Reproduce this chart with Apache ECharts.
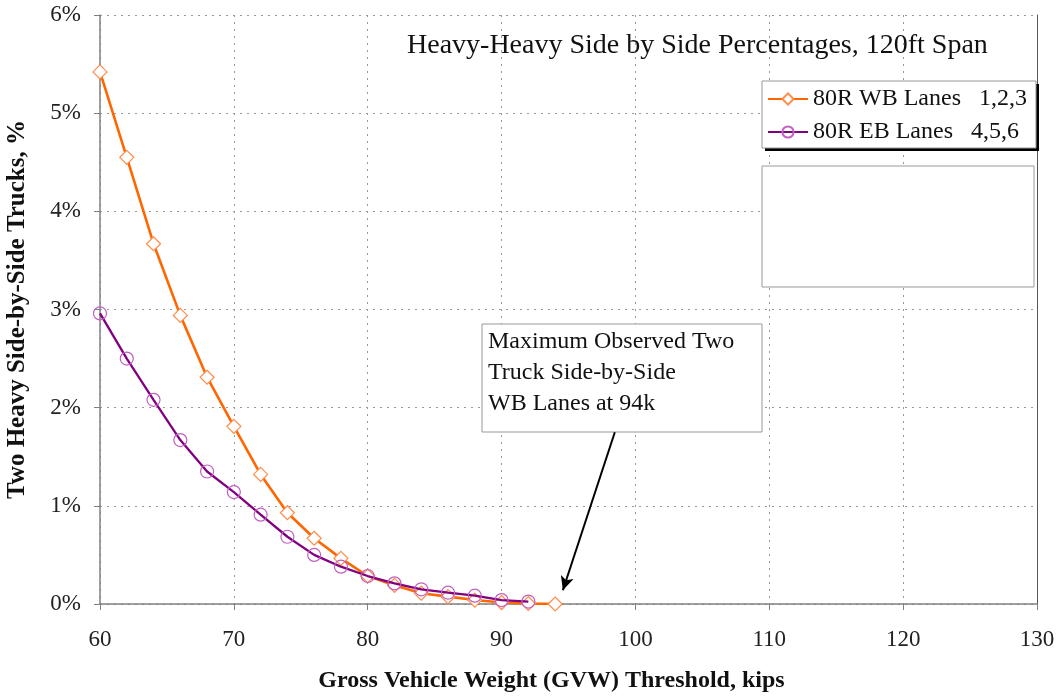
<!DOCTYPE html>
<html>
<head>
<meta charset="utf-8">
<script src="https://cdn.jsdelivr.net/npm/echarts@6/dist/echarts.min.js"></script>
<style>html,body{margin:0;padding:0;background:#fff}#c{width:1060px;height:698px}</style>
</head>
<body>
<div id="c"></div>
<script>
// Data
var wbX = [60,62,64,66,68,70,72,74,76,78,80,82,84,86,88,90,92,94];
var wbY = [5.42,4.55,3.67,2.94,2.31,1.81,1.32,0.93,0.67,0.465,0.285,0.19,0.11,0.075,0.04,0.015,0.005,0];
var ebX = [60,62,64,66,68,70,72,74,76,78,80,82,84,86,88,90,92];
var ebY = [2.96,2.50,2.08,1.67,1.35,1.14,0.91,0.685,0.50,0.38,0.285,0.21,0.15,0.115,0.085,0.04,0.025];
var seriesNames = ['80R WB Lanes   1,2,3', '80R EB Lanes   4,5,6'];
var chartTitle = 'Heavy-Heavy Side by Side Percentages, 120ft Span';
var xTitle = 'Gross Vehicle Weight (GVW) Threshold, kips';
var yTitle = 'Two Heavy Side-by-Side Trucks, %';
var noteLines = ['Maximum Observed Two', 'Truck Side-by-Side', 'WB Lanes at 94k'];
var arrowFrom = [98.46, 1.75];
var arrowTo = [94.58, 0.14];

function pairs(xs, ys){ return xs.map(function(x,i){ return [x, ys[i]]; }); }

var FONT = '"Liberation Serif", "Times New Roman", serif';
var chart = echarts.init(document.getElementById('c'));
chart.setOption({
  animation: false,
  backgroundColor: '#fff',
  title: {
    text: chartTitle, left: 407, top: 32, padding: 0,
    textStyle: { fontFamily: FONT, fontSize: 28, fontWeight: 'normal', color: '#111' }
  },
  grid: { left: 100, right: 23, top: 15, bottom: 94, outerBoundsMode: 'none', containLabel: false },
  legend: {
    orient: 'vertical', left: 762, top: 82, itemGap: 9, itemWidth: 40, itemHeight: 14,
    padding: 5,
    textStyle: { fontFamily: FONT, fontSize: 24, lineHeight: 24, color: '#111' },
    data: seriesNames
  },
  xAxis: {
    type: 'value', min: 60, max: 130, interval: 10,
    name: xTitle, nameLocation: 'middle', nameGap: 65,
    nameTextStyle: { fontFamily: FONT, fontSize: 24, fontWeight: 'bold', color: '#111', padding: [0, 34, 0, 0] },
    axisLine: { show: true, onZero: false, lineStyle: { color: '#808080', width: 1.5 } },
    axisTick: { show: true, length: 6, lineStyle: { color: '#808080' } },
    axisLabel: { fontFamily: FONT, fontSize: 23, color: '#222', margin: 24 },
    splitLine: { show: true, lineStyle: { color: '#999', type: [2, 5], width: 1 } }
  },
  yAxis: [{
    type: 'value', min: 0, max: 6, interval: 1,
    name: yTitle, nameLocation: 'middle', nameGap: 70, nameRotate: 90,
    nameTextStyle: { fontFamily: FONT, fontSize: 25, fontWeight: 'bold', color: '#111' },
    axisLine: { show: true, lineStyle: { color: '#808080', width: 1.5 } },
    axisTick: { show: true, length: 6, lineStyle: { color: '#808080' } },
    axisLabel: { fontFamily: FONT, fontSize: 23, color: '#222', margin: 19, formatter: '{value}%' },
    splitLine: { show: true, lineStyle: { color: '#999', type: [2, 5], width: 1 } }
  }, {
    type: 'value', min: 0, max: 6, interval: 1, position: 'right',
    axisLine: { show: true, lineStyle: { color: '#555', width: 1 } },
    axisTick: { show: false }, axisLabel: { show: false }, splitLine: { show: false }
  }],
  graphic: [
    { type: 'rect', z: 1, shape: { x: 765, y: 84, width: 274, height: 67 },
      style: { fill: '#000', stroke: null } },
    { type: 'rect', z: 1, shape: { x: 762, y: 81, width: 274, height: 67 },
      style: { fill: '#fff', stroke: '#999', lineWidth: 1 } },
    { type: 'rect', z: 1, shape: { x: 762, y: 166, width: 272, height: 121 },
      style: { fill: '#fff', stroke: '#999', lineWidth: 1 } },
    { type: 'rect', z: 1, shape: { x: 482, y: 324, width: 280, height: 108 },
      style: { fill: '#fff', stroke: '#999', lineWidth: 1 } },
    { type: 'text', z: 2, left: 488, top: 326,
      style: { text: noteLines.join('\n'), font: '24px ' + FONT, fill: '#111', lineHeight: 31 } }
  ],
  series: [{
    name: seriesNames[0], type: 'line', z: 3,
    data: pairs(wbX, wbY),
    symbol: 'diamond', symbolSize: 14,
    lineStyle: { color: '#FF6600', width: 2.6 },
    itemStyle: { color: '#fff', borderColor: '#FF8C4A', borderWidth: 1.2 },
    markLine: {
      silent: true, symbol: ['none', 'arrow'], symbolSize: [10, 14],
      label: { show: false },
      lineStyle: { color: '#000', width: 2, type: 'solid' },
      data: [[{ coord: arrowFrom }, { coord: arrowTo }]]
    }
  }, {
    name: seriesNames[1], type: 'line', z: 4,
    data: pairs(ebX, ebY),
    symbol: 'circle', symbolSize: 13,
    lineStyle: { color: '#800080', width: 2.3 },
    itemStyle: { color: 'rgba(255,255,255,0)', borderColor: '#C060C0', borderWidth: 1.2 }
  }]
});
</script>
</body>
</html>
